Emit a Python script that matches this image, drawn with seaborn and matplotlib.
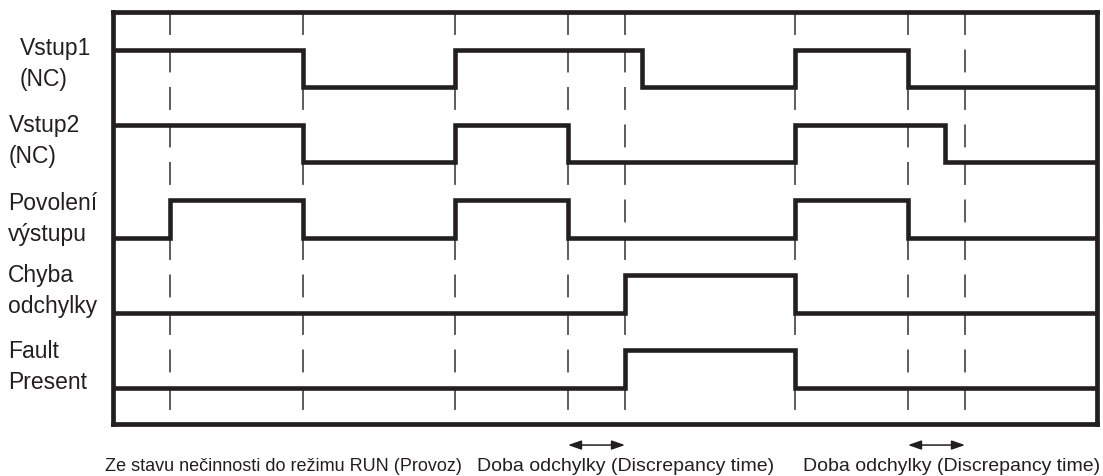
import pandas as pd
import seaborn as sns
import matplotlib.pyplot as plt

sns.set_style('white')
plt.rcParams['font.family'] = ['Liberation Sans', 'DejaVu Sans']
plt.rcParams['lines.scale_dashes'] = False

# time axis (arbitrary units), edges of each signal, level 1 = high
t_end = 984
markers = [57, 190, 342, 455, 512, 682, 795, 852]
windows = [(455, 512), (795, 852)]

names = ['Vstup1\n(NC)', 'Vstup2\n(NC)', 'Povolení\nvýstupu', 'Chyba\nodchylky', 'Fault\nPresent']

vstup1_t = [0, 190, 342, 529, 682, 795]
vstup1_v = [1, 0, 1, 0, 1, 0]
vstup2_t = [0, 190, 342, 455, 682, 832]
vstup2_v = [1, 0, 1, 0, 1, 0]
povoleni_t = [0, 57, 190, 342, 455, 682, 795]
povoleni_v = [0, 1, 0, 1, 0, 1, 0]
chyba_t = [0, 512, 682]
chyba_v = [0, 1, 0]
fault_t = [0, 512, 682]
fault_v = [0, 1, 0]

bottom_labels = ['Ze stavu nečinnosti do režimu RUN (Provoz)',
                 'Doba odchylky (Discrepancy time)',
                 'Doba odchylky (Discrepancy time)']

signals = [(vstup1_t, vstup1_v), (vstup2_t, vstup2_v), (povoleni_t, povoleni_v),
           (chyba_t, chyba_v), (fault_t, fault_v)]

rows = []
for i, (t, v) in enumerate(signals):
    base = len(signals) - 1 - i
    for a, b in zip(t + [t_end], v + [v[-1]]):
        rows.append({'signal': names[i], 't': a, 'y': base + 0.5 * b})
df = pd.DataFrame(rows)

ink = '#231f20'
W, H = 1103, 476
fig = plt.figure(figsize=(W / 100, H / 100), dpi=100)
ax = fig.add_axes([113 / W, 1 - 424 / H, 984 / W, 412 / H])

for m in markers:
    ax.axvline(m, ymin=1, ymax=0, color='#5c5c5c', lw=1.4, dashes=(16.5, 10.5), zorder=1)

for name, g in df.groupby('signal', sort=False):
    sns.lineplot(data=g, x='t', y='y', ax=ax, estimator=None, sort=False,
                 drawstyle='steps-post', color=ink, lw=3.3, solid_joinstyle='miter', zorder=3)

ax.set_xlim(0, t_end)
ax.set_ylim(-0.48, 5.0)
ax.set_xticks([])
ax.set_yticks([])
ax.set_xlabel('')
ax.set_ylabel('')
for s in ax.spines.values():
    s.set_linewidth(3.4)
    s.set_color(ink)
    s.set_visible(True)

for a, b in windows:
    ax.annotate('', xy=(a, -0.76), xytext=(b, -0.76),
                arrowprops=dict(arrowstyle='<|-|>,head_length=0.8,head_width=0.28',
                                color=ink, lw=1.1, shrinkA=0, shrinkB=0),
                annotation_clip=False)

# left labels
label_pos = [(20, 64), (9, 141), (8, 219), (8, 291), (8, 367)]
for (x, y), name in zip(label_pos, names):
    fig.text(x / W, 1 - y / H, name, ha='left', va='center', fontsize=16.5,
             linespacing=1.4, color=ink)

for x, lab, fs in zip([105, 477, 803], bottom_labels, [13, 14, 14]):
    fig.text(x / W, 1 - 471 / H, lab, ha='left', va='baseline', fontsize=fs, color=ink)

fig.savefig('out.png', dpi=100)
